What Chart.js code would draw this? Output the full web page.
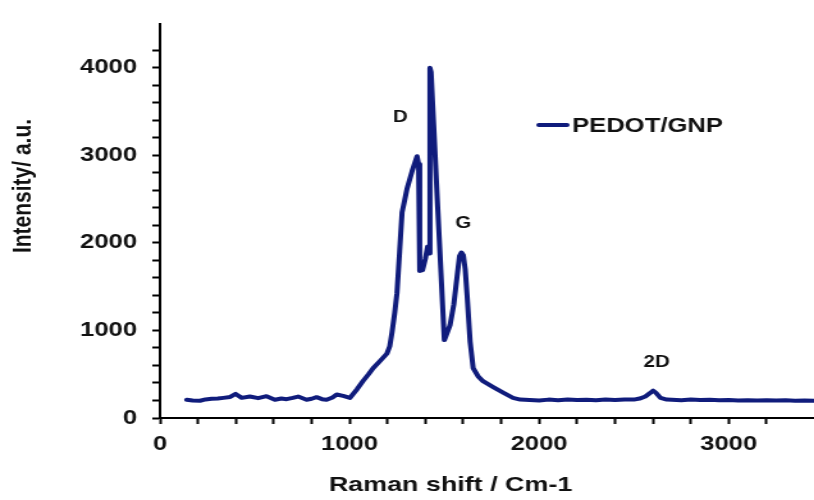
<!DOCTYPE html>
<html>
<head>
<meta charset="utf-8">
<title>Raman PEDOT/GNP</title>
<script src="https://cdn.jsdelivr.net/npm/chart.js@4/dist/chart.umd.min.js"></script>
<style>
  html, body { margin: 0; padding: 0; background: #fff; overflow: hidden; }
  /* the reference is stretched sideways, so the canvas is drawn narrow and shown wide */
  #quadro { width: 636px; height: 500px; transform: scaleX(1.2799); transform-origin: 0 0; }
</style>
</head>
<body>
<div id="quadro"><canvas id="grafico" width="636" height="500"></canvas></div>
<script>
// Dados
const ramanShift = [141, 172, 211, 240, 272, 305, 334, 370, 399, 431, 474, 518, 562, 606, 640, 668,
  700, 729, 773, 800, 826, 855, 879, 910, 932, 966, 1002, 1040, 1071, 1100, 1124, 1160, 1197, 1212,
  1224, 1238, 1250, 1264, 1277, 1290, 1303, 1330, 1356, 1364, 1370, 1385, 1400, 1412, 1418, 1424,
  1430, 1465, 1500, 1530, 1550, 1567, 1580, 1590, 1600, 1610, 1620, 1636, 1652, 1680, 1704, 1760,
  1810, 1862, 1900, 1950, 2000, 2050, 2100, 2150, 2200, 2250, 2300, 2350, 2400, 2450, 2500, 2530,
  2560, 2585, 2601, 2615, 2640, 2673, 2700, 2750, 2800, 2850, 2900, 2950, 3000, 3050, 3100, 3150,
  3200, 3250, 3300, 3350, 3400, 3450];
const intensidade = [208, 200, 197, 212, 219, 222, 230, 240, 275, 230, 245, 227, 249, 208, 222, 215,
  230, 245, 208, 220, 238, 215, 208, 235, 268, 253, 230, 330, 423, 500, 568, 650, 735, 820,
  980, 1200, 1426, 1900, 2350, 2480, 2618, 2820, 2990, 2900, 1680, 1690, 1820, 1960, 1880, 4000,
  3950, 2400, 890, 1060, 1300, 1615, 1850, 1890, 1860, 1700, 1400, 870, 570, 470, 420, 350,
  290, 230, 210, 205, 200, 210, 204, 212, 205, 208, 203, 210, 206, 212, 210, 222,
  245, 285, 312, 290, 230, 210, 208, 204, 210, 205, 208, 203, 206, 200, 204, 200,
  203, 199, 202, 198, 200, 198];

const nomeSerie = 'PEDOT/GNP';
const tituloX = 'Raman shift / Cm-1';
const tituloY = 'Intensity/ a.u.';

// Rótulos dos picos (posição em unidades dos eixos)
const picosTexto = ['D', 'G', '2D'];
const picosX = [1268, 1600, 2620];
const picosY = [3426, 2223, 630];

const corLinha = '#101c7c';
const fonte = '"Liberation Sans", Arial, sans-serif';

const pontos = ramanShift.map((x, i) => ({ x: x, y: intensidade[i] }));

// Plugin simples para títulos, rótulos dos picos e legenda
const textosExtras = {
  id: 'textosExtras',
  afterDraw(chart) {
    const ctx = chart.ctx;
    const sx = chart.scales.x, sy = chart.scales.y;
    ctx.save();
    ctx.fillStyle = '#111';
    ctx.textAlign = 'center';
    ctx.textBaseline = 'middle';

    // títulos dos eixos
    ctx.font = 'bold 21px ' + fonte;
    ctx.fillText(tituloX, 352, 485);
    ctx.save();
    ctx.translate(18, 186);
    ctx.rotate(-Math.PI / 2);
    ctx.fillText(tituloY, 0, 0);
    ctx.restore();

    // rótulos dos picos
    ctx.font = 'bold 16px ' + fonte;
    picosTexto.forEach((t, i) => {
      ctx.fillText(t, sx.getPixelForValue(picosX[i]), sy.getPixelForValue(picosY[i]));
    });

    // legenda
    ctx.strokeStyle = corLinha;
    ctx.lineWidth = 4;
    ctx.lineCap = 'round';
    ctx.beginPath();
    ctx.moveTo(421, 125);
    ctx.lineTo(443, 125);
    ctx.stroke();
    ctx.textAlign = 'left';
    ctx.font = 'bold 20px ' + fonte;
    ctx.fillText(nomeSerie, 447, 126);
    ctx.restore();
  }
};

const soPassos200 = scale => {
  scale.ticks = scale.ticks.filter(t => t.value % 200 === 0);
};

new Chart(document.getElementById('grafico'), {
  type: 'line',
  data: {
    datasets: [{
      label: nomeSerie,
      data: pontos,
      borderColor: corLinha,
      borderWidth: 4,
      borderJoinStyle: 'round',
      borderCapStyle: 'round',
      pointRadius: 0,
      tension: 0,
      fill: false
    }]
  },
  options: {
    responsive: false,
    animation: false,
    devicePixelRatio: 1,
    layout: { padding: { top: 14, right: 0, bottom: 0, left: 0 } },
    plugins: {
      legend: { display: false },
      tooltip: { enabled: false }
    },
    scales: {
      x: {
        type: 'linear',
        min: 0,
        max: 3450,
        afterBuildTicks: soPassos200,
        afterFit: s => { s.height = 82; },
        ticks: {
          stepSize: 200,
          autoSkip: false,
          maxRotation: 0,
          padding: 8,
          color: '#111',
          font: { family: fonte, weight: 'bold', size: 20 },
          callback: v => (v % 1000 === 0 ? v : '')
        },
        grid: { drawOnChartArea: false, drawTicks: true, tickLength: 6, tickWidth: 2, color: '#000' },
        border: { display: true, color: '#000', width: 2 }
      },
      y: {
        type: 'linear',
        min: 0,
        max: 4500,
        afterBuildTicks: soPassos200,
        afterFit: s => { s.width = 125; },
        ticks: {
          stepSize: 200,
          autoSkip: false,
          padding: 12,
          color: '#111',
          font: { family: fonte, weight: 'bold', size: 20 },
          callback: v => (v % 1000 === 0 ? v : '')
        },
        grid: { drawOnChartArea: false, drawTicks: true, tickLength: 6, tickWidth: 2, color: '#000' },
        border: { display: true, color: '#000', width: 2 }
      }
    }
  },
  plugins: [textosExtras]
});
</script>
</body>
</html>
